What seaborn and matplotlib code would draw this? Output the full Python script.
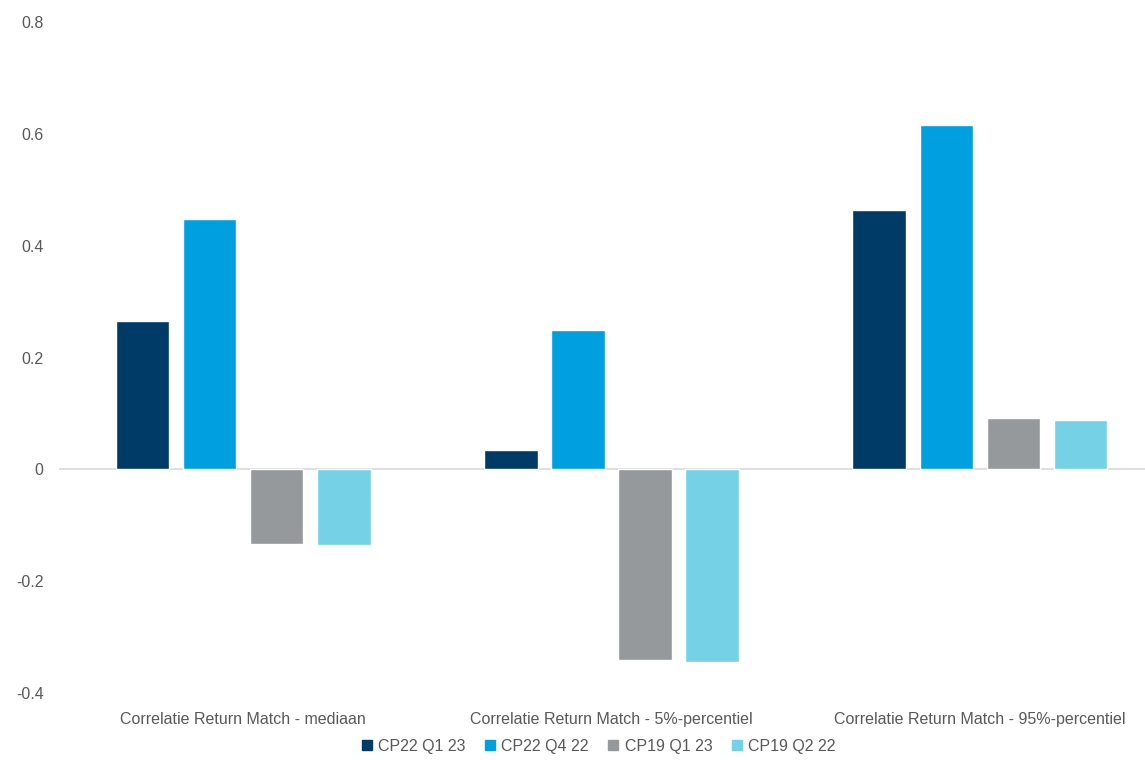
import matplotlib
matplotlib.use("Agg")
import matplotlib.pyplot as plt
from matplotlib.lines import Line2D
import pandas as pd
import seaborn as sns

categories = [
    "Correlatie Return Match - mediaan",
    "Correlatie Return Match - 5%-percentiel",
    "Correlatie Return Match - 95%-percentiel",
]
series = ["CP22 Q1 23", "CP22 Q4 22", "CP19 Q1 23", "CP19 Q2 22"]
cp22_q1_23 = [0.266, 0.034, 0.464]
cp22_q4_22 = [0.448, 0.250, 0.616]
cp19_q1_23 = [-0.134, -0.341, 0.091]
cp19_q2_22 = [-0.136, -0.345, 0.089]
colors = ["#003A66", "#009FDF", "#96999C", "#74D1E6"]

rows = []
for name, vals in zip(series, [cp22_q1_23, cp22_q4_22, cp19_q1_23, cp19_q2_22]):
    for cat, v in zip(categories, vals):
        rows.append({"categorie": cat, "reeks": name, "waarde": v})
df = pd.DataFrame(rows)

sns.set_theme(style="white")
plt.rcParams["font.family"] = ["Liberation Sans", "DejaVu Sans"]

fig = plt.figure(figsize=(11.45, 7.6), dpi=100)
W, H = 1145, 760
left, right_edge = 59, 1164
top, bottom = 22, 693
ax = fig.add_axes([left / W, 1 - bottom / H, (right_edge - left) / W, (bottom - top) / H])

sns.barplot(
    data=df, x="categorie", y="waarde", hue="reeks",
    order=categories, hue_order=series, palette=colors,
    width=0.728, gap=0.2, saturation=1, errorbar=None, ax=ax, legend=False,
)

ax.set_xlim(-0.5, 2.5)
ax.set_ylim(-0.4, 0.8)
ax.set_yticks([-0.4, -0.2, 0, 0.2, 0.4, 0.6, 0.8])
ax.set_yticklabels(["-0.4", "-0.2", "0", "0.2", "0.4", "0.6", "0.8"])
for s in ax.spines.values():
    s.set_visible(False)
ax.axhline(0, color="#D9D9D9", lw=1.2, zorder=0)
ax.set_xlabel("")
ax.set_ylabel("")
ax.tick_params(axis="y", length=0, pad=11, labelsize=11.5, labelcolor="#595959")
ax.tick_params(axis="x", length=0, pad=14, labelsize=11.5, labelcolor="#595959")
ax.grid(False)

handles = [Line2D([0], [0], marker="s", linestyle="none", markersize=7,
                  markerfacecolor=c, markeredgecolor=c) for c in colors]
fig.legend(handles, series, loc="center", bbox_to_anchor=(596 / W, 1 - 746 / H),
           ncol=4, frameon=False, fontsize=11.5, handletextpad=0.05,
           columnspacing=0.9, labelcolor="#595959", handlelength=1.3)

fig.savefig("out.png", dpi=100)
